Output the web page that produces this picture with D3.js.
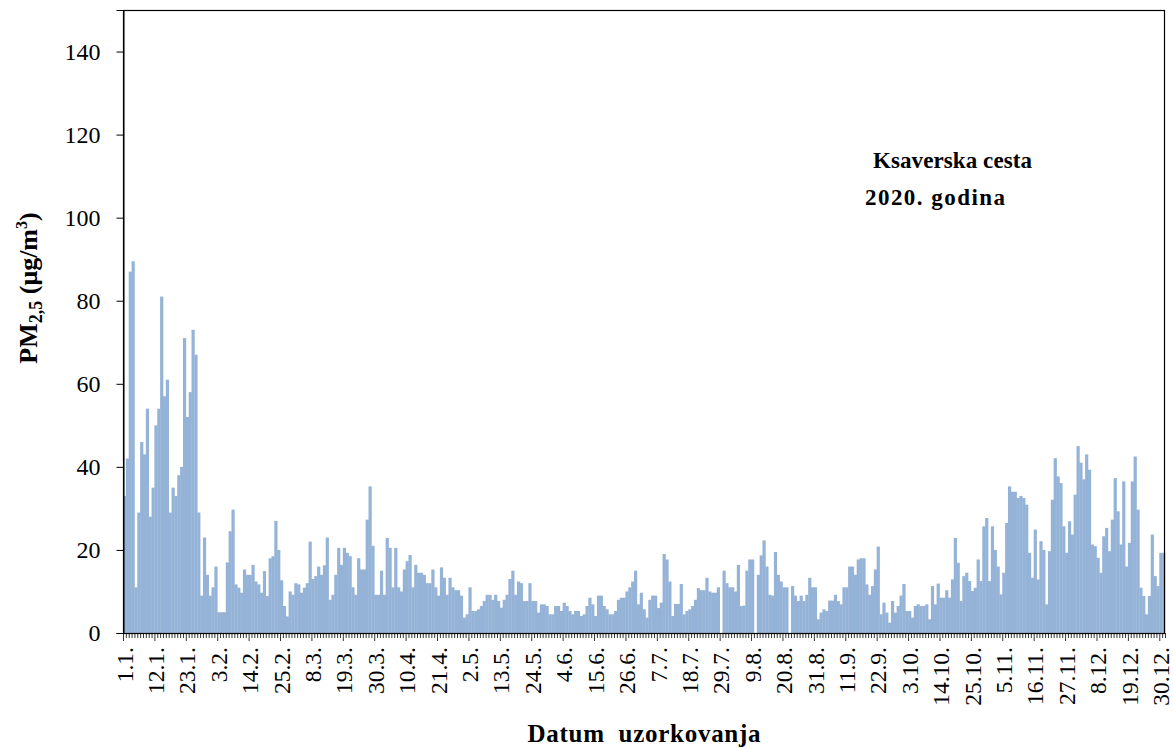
<!DOCTYPE html>
<html><head><meta charset="utf-8">
<script src="https://cdn.jsdelivr.net/npm/d3@7"></script>
<style>
body{margin:0;background:#fff}
svg{display:block}
text{font-family:"Liberation Serif","Times New Roman",serif;fill:#000}
</style>
</head><body>
<svg id="c" width="1173" height="749"></svg>
<script>
// ---- data ----
const dayLabels = ["1.1.","12.1.","23.1.","3.2.","14.2.","25.2.","8.3.","19.3.","30.3.","10.4.","21.4.","2.5.","13.5.","24.5.","4.6.","15.6.","26.6.","7.7.","18.7.","29.7.","9.8.","20.8.","31.8.","11.9.","22.9.","3.10.","14.10.","25.10.","5.11.","16.11.","27.11.","8.12.","19.12.","30.12."];
const labelStep = 11;
const pm25 = [
33,42,87,89.5,11,29,46,43,54,28,35,50,54,81,57,61,29,35,33,38,40,71,52,58,73,67,29,9,23,14,9,11,16,5,
5,5,17,24.5,29.7,11.7,10.9,9.7,15.3,14,14,16.4,12.4,11.7,9.7,14.9,8.9,18,18.5,27,20,12.7,6.5,4,10,9.2,12,11.7,9.7,10.9,12,22,13,13.7,16,
14,16.3,23,8,9.2,14,20.5,16.4,20.5,19.3,18.5,11,9.2,18,15.3,15.3,27.3,35.3,21,9.2,9.2,15,9.2,22.9,20.5,11,20.5,11,10,15.3,17.3,18.8,11,16.4,14.5,
14.5,14,12,12,15.3,11,9,15.8,13.3,9.2,13.3,11,10.3,10.3,9,3.7,4.5,11,5.3,5.3,5.7,6.5,7.7,9.2,9.2,8,9.2,7.7,6.1,8,9.2,13,15,9.2,12.4,
12,7.7,7.7,12,7.7,7.7,4.9,6.9,6.9,6.5,4.5,4.5,6.5,6.5,5.3,7.3,6.5,5.3,4.5,5.3,5.3,4.1,4.5,6.5,8.5,6.9,4.1,9,9,6.5,5.7,4.5,4.5,5.3,8,
8.5,8.5,10,11,12.4,15,6.9,9.7,5.7,3.7,8,9,9,6,7.3,19,17.7,12.4,4.1,7,7,11.8,4.5,5.3,5.7,6.5,8,10.8,10.3,10.3,13.3,10,9.7,9.7,11,
null,15,12,11,11,10,16.4,6.5,6.6,15,17.7,17.7,null,14,18.7,22.3,16,9.2,9,19.5,14,12.4,11,11,null,11.3,9,7.7,9,7.7,9.2,13.3,11,11,3.3,
4.9,5.7,5.3,7.8,7.8,9.2,7.7,6.9,11,11,16,16,14,17.7,18,18,11.7,9.2,11.3,15.3,20.8,4.5,7.3,4.9,2.5,7.7,4.9,6.5,9,11.8,5.3,5.3,3.7,6.5,6.9,
6.5,6.5,6.9,3.3,11.3,6.9,11.9,8.5,8.5,10.3,8.5,12.9,22.9,16.9,7.7,13.7,14.5,12.5,10.1,10.9,17.7,12.5,25.7,27.7,12.5,25.7,20,16,9.3,14.5,26.5,35.3,34,34,32.5,
33,32.5,30.9,19.3,13.3,24.9,12.9,22.1,20,6.9,19.7,32.1,42.1,37.7,36.1,25.7,19.3,26.9,23.7,33.3,45,41,37,43,39.3,21.3,20.9,18.1,14.5,23.3,25.3,19.7,27.3,37.3,29.3,21.3,36.5,16,21.7,36.5,42.5,29.7,10.9,8.9,4.5,8.9,23.7,13.7,11.3,19.3,19.3
];
const yTicks = [0,20,40,60,80,100,120,140];
const yMax = 150;
const annotationLines = ["Ksaverska cesta","2020. godina"];
const xTitle = "Datum  uzorkovanja";

// ---- layout ----
const L = 123, R = 1165, T = 10, B = 633;
const svg = d3.select("#c");

const x = d3.scaleBand().domain(d3.range(pm25.length)).range([L, R]).padding(0);
const y = d3.scaleLinear().domain([0, yMax]).range([B, T]);

// bars
svg.append("g").selectAll("rect")
  .data(pm25.map((v, i) => ({i, v})).filter(d => d.v != null))
  .join("rect")
  .attr("x", d => x(d.i))
  .attr("y", d => y(d.v))
  .attr("width", x.bandwidth() + 0.35)
  .attr("height", d => y(0) - y(d.v))
  .attr("fill", "#95B3D7");

// frame
svg.append("rect").attr("x", L + 0.5).attr("y", T + 0.5)
  .attr("width", R - L - 1).attr("height", B - T)
  .attr("fill", "none").attr("stroke", "#000").attr("stroke-width", 1.2);

// y axis
const yAxis = svg.append("g").attr("transform", `translate(${L + 0.5},0)`)
  .call(d3.axisLeft(y).tickValues(yTicks).tickSize(7).tickPadding(16).tickFormat(d3.format("d")));
yAxis.select(".domain").attr("stroke", "#000");
yAxis.selectAll(".tick line").attr("stroke", "#000");
yAxis.selectAll(".tick text").attr("font-size", 24).attr("font-family", "Liberation Serif").attr("fill", "#000");

// x axis: minor tick at every category, major every 11
const xg = svg.append("g");
xg.append("line").attr("x1", L).attr("x2", R).attr("y1", B + 0.5).attr("y2", B + 0.5).attr("stroke", "#000").attr("stroke-width", 1.2);
xg.selectAll("line.tk").data(d3.range(pm25.length + 1)).join("line").attr("class", "tk")
  .attr("x1", i => (i < pm25.length ? x(i) : R) + 0.5)
  .attr("x2", i => (i < pm25.length ? x(i) : R) + 0.5)
  .attr("y1", B).attr("y2", i => B + (i % labelStep === 0 ? 8 : 5))
  .attr("stroke", "#000").attr("stroke-width", 0.8);
xg.selectAll("text").data(dayLabels).join("text")
  .attr("transform", (d, k) => `translate(${x(k * labelStep) + x.bandwidth() / 2},647) rotate(-90)`)
  .attr("text-anchor", "end").attr("dy", "0.35em")
  .attr("font-size", 23.5).text(d => d);

// axis titles
svg.append("text").attr("x", 644).attr("y", 742).attr("text-anchor", "middle")
  .attr("font-size", 25).attr("font-weight", "bold").style("white-space", "pre")
  .attr("textLength", 233).attr("lengthAdjust", "spacing").text(xTitle);

const yt = svg.append("text").attr("transform", "translate(37,288) rotate(-90)")
  .attr("text-anchor", "middle").attr("font-size", 26).attr("font-weight", "bold");
yt.append("tspan").text("PM");
yt.append("tspan").attr("font-size", 18).attr("dy", 5).text("2,5");
yt.append("tspan").attr("dy", -5).text(" (μg/m");
yt.append("tspan").attr("font-size", 16).attr("dy", -10).text("3");
yt.append("tspan").attr("dy", 10).text(")");

// annotation
svg.append("text").attr("x", 873).attr("y", 168).attr("font-size", 23).attr("font-weight", "bold")
  .attr("textLength", 159).attr("lengthAdjust", "spacing").text(annotationLines[0]);
svg.append("text").attr("x", 865).attr("y", 205).attr("font-size", 23).attr("font-weight", "bold")
  .attr("textLength", 140).attr("lengthAdjust", "spacing").text(annotationLines[1]);
</script>
</body></html>
